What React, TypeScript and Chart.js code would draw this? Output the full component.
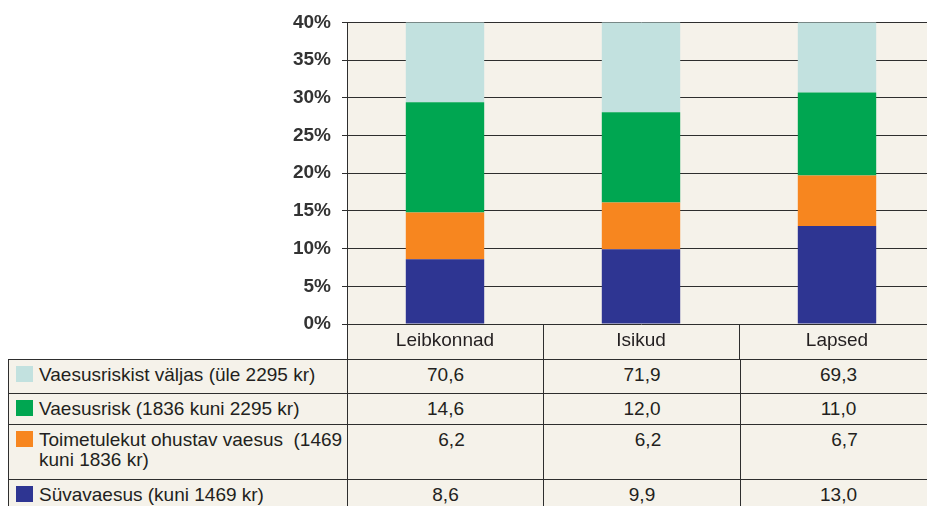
import React, { useEffect, useRef } from 'react';
import { Chart, registerables } from 'chart.js';

Chart.register(...registerables);

const categories = ['Leibkonnad', 'Isikud', 'Lapsed'];
const outsideRisk = [70.6, 71.9, 69.3];
const povertyRisk = [14.6, 12.0, 11.0];
const copingPoverty = [6.2, 6.2, 6.7];
const deepPoverty = [8.6, 9.9, 13.0];
const yMin = 0;
const yMax = 40;
const yStep = 5;

const labelOutside = 'Vaesusriskist väljas (üle 2295 kr)';
const labelRisk = 'Vaesusrisk (1836 kuni 2295 kr)';
const labelCopingLine1 = 'Toimetulekut ohustav vaesus\u00a0 (1469';
const labelCopingLine2 = 'kuni 1836 kr)';
const labelDeep = 'Süvavaesus (kuni 1469 kr)';

const COLORS = {
  outside: '#c2e1df',
  risk: '#00a651',
  coping: '#f7861f',
  deep: '#2e3592',
  cream: '#f5f2ea',
  line: '#2e2e2e',
  text: '#231f20',
};

const FONT = '"Liberation Sans", Arial, Helvetica, sans-serif';

const fmt = (v: number) => v.toFixed(1).replace('.', ',');

const bgPlugin = {
  id: 'creamBg',
  beforeDraw(chart: any) {
    const { ctx, chartArea: a } = chart;
    ctx.save();
    ctx.fillStyle = COLORS.cream;
    ctx.fillRect(a.left, a.top, chart.width - a.left, chart.height - a.top);
    ctx.restore();
  },
};

function BarChart() {
  const ref = useRef<HTMLCanvasElement | null>(null);
  useEffect(() => {
    if (!ref.current) return;
    const chart = new Chart(ref.current, {
      type: 'bar',
      data: {
        labels: categories,
        datasets: [
          { label: 'Süvavaesus (kuni 1469 kr)', data: deepPoverty, backgroundColor: COLORS.deep },
          { label: 'Toimetulekut ohustav vaesus (1469 kuni 1836 kr)', data: copingPoverty, backgroundColor: COLORS.coping },
          { label: labelRisk, data: povertyRisk, backgroundColor: COLORS.risk },
          { label: labelOutside, data: outsideRisk, backgroundColor: COLORS.outside },
        ],
      },
      options: {
        responsive: false,
        animation: false,
        devicePixelRatio: 1,
        layout: { padding: { left: 0, top: 22, right: 10, bottom: 0 } },
        plugins: { legend: { display: false }, tooltip: { enabled: false } },
        datasets: { bar: { barPercentage: 0.4, categoryPercentage: 1, borderWidth: 0 } },
        scales: {
          x: {
            stacked: true,
            grid: {
              offset: true,
              drawOnChartArea: false,
              tickLength: 35,
              color: COLORS.line,
              lineWidth: 1,
            },
            border: { display: false },
            ticks: {
              font: { family: FONT, size: 19 },
              color: COLORS.text,
              padding: -30,
              maxRotation: 0,
            },
            afterFit: (s: any) => {
              s.height = 36;
            },
          },
          y: {
            stacked: true,
            min: yMin,
            max: yMax,
            ticks: {
              stepSize: yStep,
              callback: (v: any) => v + '%',
              font: { family: FONT, size: 19, weight: 'bold' },
              color: '#333333',
              padding: 11,
            },
            grid: { color: COLORS.line, lineWidth: 1, tickLength: 5 },
            border: { display: true, color: COLORS.line, width: 1 },
            afterFit: (s: any) => {
              s.width = 347;
            },
          },
        },
      },
      plugins: [bgPlugin],
    });
    return () => chart.destroy();
  }, []);
  return (
    <canvas
      ref={ref}
      width={945}
      height={360}
      style={{ position: 'absolute', left: 0, top: 0, width: 945, height: 360 }}
    />
  );
}

const tableRows = [
  { color: COLORS.outside, label: [labelOutside], values: outsideRisk, valueShift: 0 },
  { color: COLORS.risk, label: [labelRisk], values: povertyRisk, valueShift: 0 },
  { color: COLORS.coping, label: [labelCopingLine1, labelCopingLine2], values: copingPoverty, valueShift: 12 },
  { color: COLORS.deep, label: [labelDeep], values: deepPoverty, valueShift: 0 },
];

const rowTops = [359, 393, 424, 479];
const rowHeights = [34, 31, 55, 60];
const colLefts = [0, 339, 535, 732];
const colWidths = [339, 196, 197, 196];

function DataTable() {
  return (
    <div style={{ position: 'absolute', left: 8, top: 0, width: 1000, height: 560 }}>
      {tableRows.map((r, i) => (
        <div
          key={i}
          style={{
            position: 'absolute',
            left: 0,
            top: rowTops[i],
            width: 1000,
            height: rowHeights[i],
            borderTop: `1px solid ${COLORS.line}`,
            borderLeft: `1px solid ${COLORS.line}`,
            boxSizing: 'border-box',
            background: COLORS.cream,
          }}
        >
          <div
            style={{
              position: 'absolute',
              left: 0,
              top: 0,
              width: colWidths[0],
              height: '100%',
            }}
          >
            <div
              style={{
                position: 'absolute',
                left: 7,
                top: 6,
                width: 17,
                height: 16,
                background: r.color,
              }}
            />
            <div
              style={{
                position: 'absolute',
                left: 30,
                top: 5,
                fontFamily: FONT,
                fontSize: 19,
                lineHeight: '20px',
                color: COLORS.text,
                whiteSpace: 'nowrap',
              }}
            >
              {r.label.map((t, k) => (
                <div key={k}>{t}</div>
              ))}
            </div>
          </div>
          {r.values.map((v, j) => (
            <div
              key={j}
              style={{
                position: 'absolute',
                left: colLefts[j + 1] - 1,
                top: 0,
                width: colWidths[j + 1],
                height: '100%',
                borderLeft: `1px solid ${COLORS.line}`,
                boxSizing: 'border-box',
                paddingTop: 5,
                paddingLeft: r.valueShift,
                textAlign: 'center',
                fontFamily: FONT,
                fontSize: 19,
                lineHeight: '20px',
                color: COLORS.text,
              }}
            >
              {fmt(v)}
            </div>
          ))}
        </div>
      ))}
    </div>
  );
}

export default function App() {
  return (
    <div
      style={{
        position: 'fixed',
        left: 0,
        top: 0,
        width: 927,
        height: 506,
        overflow: 'hidden',
        background: '#ffffff',
      }}
    >
      <BarChart />
      <DataTable />
    </div>
  );
}
